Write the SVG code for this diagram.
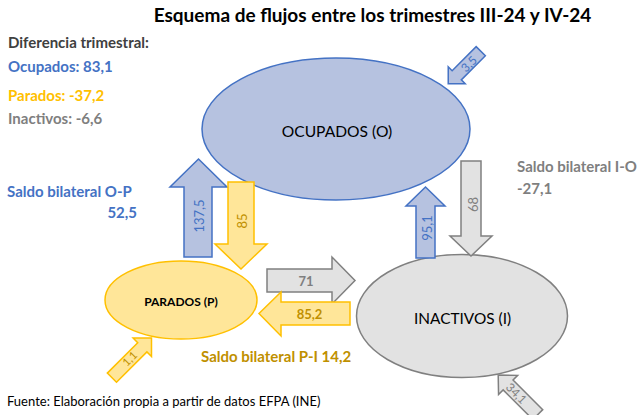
<svg xmlns="http://www.w3.org/2000/svg" width="638" height="415" viewBox="0 0 638 415">
<style>
text{font-family:Lato,"Liberation Sans",sans-serif}
.b{font-weight:bold}
.blueF{fill:#B6C2E0;stroke:#4472C4;stroke-width:1.5}
.yelF{fill:#FFE699;stroke:#FFC000;stroke-width:1.5}
.grayF{fill:#E2E2E2;stroke:#808080;stroke-width:1.5}
.cb{fill:#4472C4}.cy{fill:#BF9000}.cg{fill:#7F7F7F}
.lbl{font-size:13px}
</style>
<rect width="638" height="415" fill="#fff"/>
<text x="372.5" y="22" text-anchor="middle" class="b" font-size="19" fill="#000">Esquema de flujos entre los trimestres III-24 y IV-24</text>
<g id="legend" class="b" font-size="15">
<text x="8" y="48" fill="#404040">Diferencia trimestral:</text>
<text x="8" y="72" class="cb">Ocupados: 83,1</text>
<text x="8" y="101" fill="#FFC000">Parados: -37,2</text>
<text x="8" y="124" class="cg">Inactivos: -6,6</text>
</g>
<g id="ocupados">
<ellipse cx="336" cy="129" rx="134" ry="71" class="blueF"/>
<text x="337" y="137" text-anchor="middle" font-size="15.6" fill="#000">OCUPADOS (O)</text>
</g>
<g id="parados">
<ellipse cx="181" cy="300" rx="76" ry="39" class="yelF"/>
<text x="181" y="306" text-anchor="middle" class="b" font-size="12" fill="#000">PARADOS (P)</text>
</g>
<g id="inactivos">
<ellipse cx="462" cy="316" rx="105.5" ry="61.5" class="grayF"/>
<text x="462.5" y="324" text-anchor="middle" font-size="15.4" fill="#000">INACTIVOS (I)</text>
</g>
<g id="connectors">
<g id="p-o">
<polygon class="blueF" stroke-width="1.3" points="184,257 212,257 212,187 227,187 198.5,159 170,187 184,187"/>
<text transform="translate(204,216) rotate(-90)" text-anchor="middle" class="lbl cb">137,5</text>
</g>
<g id="o-p">
<polygon class="yelF" stroke-width="1.3" points="228,182 254,182 254,244 267,244 241,269 215,244 228,244"/>
<text transform="translate(246.5,221) rotate(-90)" text-anchor="middle" class="lbl cy">85</text>
</g>
<g id="p-i">
<polygon class="grayF" stroke-width="1.3" points="267,269 332,269 332,257 355,280.5 332,304 332,292 267,292"/>
<text x="306" y="286" text-anchor="middle" class="lbl b cg">71</text>
</g>
<g id="i-p">
<polygon class="yelF" stroke-width="1.3" points="350,302 281,302 281,292 259,313.5 281,336 281,325 350,325"/>
<text x="309.5" y="318.5" text-anchor="middle" class="lbl b cy">85,2</text>
</g>
<g id="i-o">
<polygon class="blueF" stroke-width="1.3" points="416,258 435,258 435,206 445,206 425.5,187 406,206 416,206"/>
<text transform="translate(431.5,228) rotate(-90)" text-anchor="middle" class="lbl cb">95,1</text>
</g>
<g id="o-i">
<polygon class="grayF" stroke-width="1.3" points="461,161 481,161 481,236 492,236 471,256 450,236 461,236"/>
<text transform="translate(477.5,204.5) rotate(-90)" text-anchor="middle" class="lbl cg">68</text>
</g>
<g id="in-o">
<polygon class="blueF" stroke-width="1.3" transform="translate(464.5,67.5) rotate(135)" points="-23,-6.5 11,-6.5 11,-12 23,0 11,12 11,6.5 -23,6.5"/>
<text transform="translate(472,67) rotate(-45)" text-anchor="middle" font-size="12" class="cb">3,5</text>
</g>
<g id="in-p">
<polygon class="yelF" stroke-width="1.3" transform="translate(131.7,357.9) rotate(-45)" points="-28,-6.5 15,-6.5 15,-13 28,0 15,13 15,6.5 -28,6.5"/>
<text transform="translate(132.5,361.5) rotate(-45)" text-anchor="middle" font-size="11" class="cy">1,1</text>
</g>
<g id="in-i">
<polygon class="grayF" stroke-width="1.3" transform="translate(518,394.8) rotate(-135)" points="-28,-7 14,-7 14,-13.5 28,0 14,13.5 14,7 -28,7"/>
<text transform="translate(505,388) rotate(45)" font-size="12" class="cg">34,1</text>
</g>
</g>
<g id="saldos" class="b" font-size="15">
<text x="7" y="197" class="cb">Saldo bilateral O-P</text>
<text x="137" y="218" text-anchor="end" class="cb">52,5</text>
<text x="517" y="172" class="cg">Saldo bilateral I-O</text>
<text x="517" y="194" class="cg">-27,1</text>
<text x="201" y="362" class="cy">Saldo bilateral P-I 14,2</text>
</g>
<text x="7" y="406" font-size="13" fill="#000">Fuente: Elaboración propia a partir de datos EFPA (INE)</text>
</svg>
